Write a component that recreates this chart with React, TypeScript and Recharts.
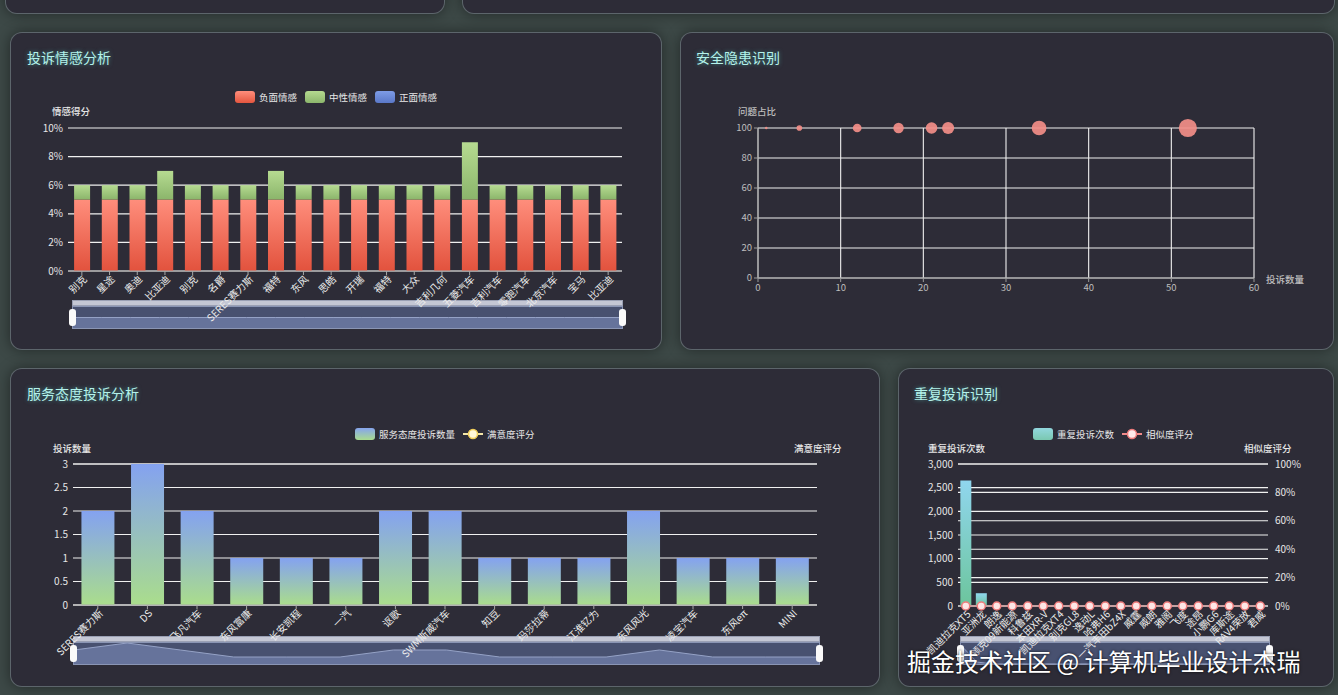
import React from "react";
import {
  Area,
  AreaChart,
  Bar,
  BarChart,
  CartesianGrid,
  ComposedChart,
  Line,
  Scatter,
  ScatterChart,
  XAxis,
  YAxis,
  ZAxis
} from "recharts";

// 投诉情感分析
const sentimentBrands = ["别克", "星途", "奥迪", "比亚迪", "别克", "名爵", "SERES赛力斯", "福特", "东风", "思皓", "开瑞", "福特", "大众", "吉利几何", "五菱汽车", "吉利汽车", "零跑汽车", "北京汽车", "宝马", "比亚迪"];
const negativeShare = [0.05, 0.05, 0.05, 0.05, 0.05, 0.05, 0.05, 0.05, 0.05, 0.05, 0.05, 0.05, 0.05, 0.05, 0.05, 0.05, 0.05, 0.05, 0.05, 0.05];
const neutralShare = [0.01, 0.01, 0.01, 0.02, 0.01, 0.01, 0.01, 0.02, 0.01, 0.01, 0.01, 0.01, 0.01, 0.01, 0.04, 0.01, 0.01, 0.01, 0.01, 0.01];
const positiveShare = [0, 0, 0, 0, 0, 0, 0, 0, 0, 0, 0, 0, 0, 0, 0, 0, 0, 0, 0, 0];
const sentimentTicks = [0, 0.02, 0.04, 0.06, 0.08, 0.1];

// 安全隐患识别
const riskCounts = [1, 5, 12, 17, 21, 23, 34, 52];
const riskRatios = [100, 100, 100, 100, 100, 100, 100, 100];
const riskXTicks = [0, 10, 20, 30, 40, 50, 60];
const riskYTicks = [0, 20, 40, 60, 80, 100];

// 服务态度投诉分析
const serviceBrands = ["SERES赛力斯", "DS", "飞凡汽车", "东风富康", "长安凯程", "一汽", "讴歌", "SWM斯威汽车", "知豆", "玛莎拉蒂", "江淮钇为", "东风风光", "凌宝汽车", "东风eπ", "MINI"];
const serviceCounts = [2, 3, 2, 1, 1, 1, 2, 2, 1, 1, 1, 2, 1, 1, 1];
const satisfactionScores = [null, null, null, null, null, null, null, null, null, null, null, null, null, null, null];
const serviceLeftTicks = [0, 0.5, 1, 1.5, 2, 2.5, 3];
const serviceRightTicks = [0, 1, 2, 3, 4, 5];

// 重复投诉识别
const repeatModels = ["凯迪拉克XT5", "亚洲龙", "朗逸", "领克09新能源", "科鲁兹", "本田XR-V", "凯迪拉克XT4", "别克GL8", "逸动L", "哈弗H6", "一汽丰田bZ4X", "威霆", "威朗", "雅阁", "飞度", "途昂", "小鹏G6", "库斯途", "RAV4荣放", "君威"];
const repeatCounts = [2650, 270, 14, 12, 12, 10, 10, 10, 9, 9, 8, 8, 8, 7, 7, 7, 6, 6, 6, 6];
const similarityScores = [0, 0, 0, 0, 0, 0, 0, 0, 0, 0, 0, 0, 0, 0, 0, 0, 0, 0, 0, 0];
const repeatLeftTicks = [0, 500, 1000, 1500, 2000, 2500, 3000];
const repeatRightTicks = [0, 0.2, 0.4, 0.6, 0.8, 1];

const sentimentData = sentimentBrands.map((brand, i) => ({
  brand,
  negative: negativeShare[i],
  neutral: neutralShare[i],
  positive: positiveShare[i]
}));
const riskData = riskCounts.map((c, i) => ({ x: c, y: riskRatios[i], z: c }));
const serviceData = serviceBrands.map((brand, i) => ({ brand, count: serviceCounts[i], score: satisfactionScores[i] }));
const repeatData = repeatModels.map((model, i) => ({ model, count: repeatCounts[i], similarity: similarityScores[i] }));

const FONT = '"Noto Sans CJK SC", "Noto Sans", sans-serif';
const GRID = "#f0f0f0";

const RotTick = (props: any) => {
  const { x, y, payload } = props;
  return (
    <g transform={`translate(${x},${y})`}>
      <text x={2} y={0} dy={6} textAnchor="end" transform="rotate(-45)" fontSize={10} fill="#ececec">
        {payload.value}
      </text>
    </g>
  );
};

const cardStyle: React.CSSProperties = {
  position: "absolute",
  background: "#2d2c37",
  border: "1px solid rgba(150,170,170,0.45)",
  borderRadius: 12,
  boxShadow: "0 0 14px rgba(0,0,0,0.45)",
  boxSizing: "border-box"
};

const titleStyle: React.CSSProperties = {
  position: "absolute",
  fontSize: 14,
  color: "#b4f2ea",
  textShadow: "0 0 4px rgba(90,220,210,0.55)",
  whiteSpace: "nowrap"
};

const axisName = (text: string, left: number, top: number, color = "#e6e6e6") => (
  <div style={{ position: "absolute", left, top, fontSize: 9.5, color, fontWeight: 500, whiteSpace: "nowrap" }}>{text}</div>
);

function Swatch({ bg }: { bg: string }) {
  return <span style={{ display: "inline-block", width: 20, height: 12, borderRadius: 3, background: bg, marginRight: 4 }} />;
}

function LineIcon({ line, fill, stroke }: { line: string; fill: string; stroke: string }) {
  return (
    <svg width={20} height={12} style={{ marginRight: 4 }}>
      <line x1={0} y1={6} x2={20} y2={6} stroke={line} strokeWidth={2} />
      <circle cx={10} cy={6} r={4.5} fill={fill} stroke={stroke} strokeWidth={1.5} />
    </svg>
  );
}

function LegendRow({ left, top, children }: { left: number; top: number; children: React.ReactNode }) {
  return (
    <div style={{ position: "absolute", left, top, display: "flex", alignItems: "center", gap: 8, fontSize: 9.5, color: "#e8e8e8", whiteSpace: "nowrap" }}>
      {children}
    </div>
  );
}

function Slider({ left, top, width, data, dataKey, max }: { left: number; top: number; width: number; data: any[]; dataKey: string; max: number }) {
  const handle = (x: number): React.CSSProperties => ({
    position: "absolute", left: x, top: 9, width: 7, height: 17, background: "#fafafa", borderRadius: 3
  });
  return (
    <div style={{ position: "absolute", left, top, width, height: 30 }}>
      <div style={{ position: "absolute", left: 0, top: 0, width, height: 6, background: "#c4c7d4", border: "1px solid #9aa0b4", boxSizing: "border-box" }} />
      <div style={{ position: "absolute", left: 0, top: 6, width, height: 23, background: "#485170", border: "1px solid #8a95b4", boxSizing: "border-box", overflow: "hidden" }}>
        <AreaChart width={width - 2} height={21} data={data} margin={{ top: 0, right: 0, bottom: 0, left: 0 }}>
          <XAxis hide dataKey="idx" />
          <YAxis hide domain={[0, max]} />
          <Area type="linear" dataKey={dataKey} stroke="#95a2c6" strokeWidth={1} fill="#66739b" fillOpacity={1} isAnimationActive={false} />
        </AreaChart>
      </div>
      <div style={handle(-3)} />
      <div style={handle(width - 4)} />
    </div>
  );
}

export default function App() {
  return (
    <div style={{ position: "fixed", left: 0, top: 0, width: 1338, height: 695, overflow: "hidden", background: "#3d4947", fontFamily: FONT }}>
      <style>{`.recharts-surface{overflow:visible}`}</style>

      {/* partial cards of the row above */}
      <div style={{ ...cardStyle, left: 5, top: -40, width: 440, height: 54 }} />
      <div style={{ ...cardStyle, left: 462, top: -40, width: 873, height: 54 }} />

      {/* 投诉情感分析 */}
      <div style={{ ...cardStyle, left: 10, top: 32, width: 652, height: 318 }} />
      <div style={{ ...titleStyle, left: 27, top: 47 }}>投诉情感分析</div>
      <LegendRow left={235} top={90}>
        <span style={{ display: "flex", alignItems: "center" }}><Swatch bg="linear-gradient(#ff8e7c,#e4563f)" />负面情感</span>
        <span style={{ display: "flex", alignItems: "center" }}><Swatch bg="linear-gradient(#b5da90,#8cb66c)" />中性情感</span>
        <span style={{ display: "flex", alignItems: "center" }}><Swatch bg="linear-gradient(#7e9ce6,#5a78c8)" />正面情感</span>
      </LegendRow>
      {axisName("情感得分", 52, 104)}
      <Slider left={72} top={300} width={551} data={sentimentData.map((d, i) => ({ ...d, idx: i }))} dataKey="negative" max={0.1} />
      <div style={{ position: "absolute", left: 10, top: 85 }}>
        <BarChart width={640} height={246} data={sentimentData} margin={{ top: 43, right: 28, bottom: 0, left: 18 }} barCategoryGap="22%">
          <defs>
            <linearGradient id="negGrad" x1="0" y1="0" x2="0" y2="1">
              <stop offset="0%" stopColor="#ff8e7c" />
              <stop offset="100%" stopColor="#e2523d" />
            </linearGradient>
            <linearGradient id="neuGrad" x1="0" y1="0" x2="0" y2="1">
              <stop offset="0%" stopColor="#b6db91" />
              <stop offset="100%" stopColor="#8bb56b" />
            </linearGradient>
            <linearGradient id="posGrad" x1="0" y1="0" x2="0" y2="1">
              <stop offset="0%" stopColor="#7e9ce6" />
              <stop offset="100%" stopColor="#5a78c8" />
            </linearGradient>
          </defs>
          <CartesianGrid vertical={false} stroke={GRID} strokeWidth={1.2} />
          <XAxis dataKey="brand" height={60} interval={0} tick={<RotTick />} axisLine={{ stroke: "#a8a8a8" }} tickLine={{ stroke: "#a8a8a8" }} tickSize={4} />
          <YAxis width={40} domain={[0, 0.1]} ticks={sentimentTicks} tickFormatter={(v: number) => `${Math.round(v * 100)}%`} axisLine={false} tickLine={false} tickSize={3} tick={{ fontSize: 10, fill: "#e6e6e6" }} />
          <Bar dataKey="negative" stackId="s" fill="url(#negGrad)" isAnimationActive={false} />
          <Bar dataKey="neutral" stackId="s" fill="url(#neuGrad)" isAnimationActive={false} />
          <Bar dataKey="positive" stackId="s" fill="url(#posGrad)" isAnimationActive={false} />
        </BarChart>
      </div>

      {/* 安全隐患识别 */}
      <div style={{ ...cardStyle, left: 680, top: 32, width: 654, height: 318 }} />
      <div style={{ ...titleStyle, left: 696, top: 47 }}>安全隐患识别</div>
      {axisName("问题占比", 738, 104, "#bdbdbd")}
      {axisName("投诉数量", 1266, 272, "#bdbdbd")}
      <div style={{ position: "absolute", left: 690, top: 100 }}>
        <ScatterChart width={640} height={195} margin={{ top: 28, right: 76, bottom: 0, left: 28 }}>
          <CartesianGrid stroke={GRID} strokeWidth={1.1} />
          <XAxis type="number" dataKey="x" domain={[0, 60]} ticks={riskXTicks} height={17} axisLine={{ stroke: "#9a9a9a" }} tickLine={{ stroke: "#9a9a9a" }} tickSize={4} tick={{ fontSize: 9.5, fill: "#bdbdbd" }} />
          <YAxis type="number" dataKey="y" domain={[0, 100]} ticks={riskYTicks} width={40} axisLine={{ stroke: "#9a9a9a" }} tickLine={{ stroke: "#9a9a9a" }} tickSize={4} tick={{ fontSize: 9.5, fill: "#bdbdbd" }} />
          <ZAxis type="number" dataKey="z" domain={[0, 60]} range={[0, 300]} />
          <Scatter data={riskData} fill="#f38e88" fillOpacity={0.92} isAnimationActive={false} />
        </ScatterChart>
      </div>

      {/* 服务态度投诉分析 */}
      <div style={{ ...cardStyle, left: 10, top: 368, width: 870, height: 319 }} />
      <div style={{ ...titleStyle, left: 27, top: 383 }}>服务态度投诉分析</div>
      <LegendRow left={355} top={427}>
        <span style={{ display: "flex", alignItems: "center" }}><Swatch bg="linear-gradient(#86a4ee,#a9dc8e)" />服务态度投诉数量</span>
        <span style={{ display: "flex", alignItems: "center" }}><LineIcon line="#f3e6a8" fill="#fff8d8" stroke="#f2cf5a" />满意度评分</span>
      </LegendRow>
      {axisName("投诉数量", 53, 441)}
      {axisName("满意度评分", 794, 441)}
      <Slider left={73} top={636} width={747} data={serviceData.map((d, i) => ({ ...d, idx: i }))} dataKey="count" max={3} />
      <div style={{ position: "absolute", left: 20, top: 455 }}>
        <ComposedChart width={850} height={210} data={serviceData} margin={{ top: 9, right: 13, bottom: 0, left: 18 }} barCategoryGap="17%">
          <defs>
            <linearGradient id="svcGrad" x1="0" y1="0" x2="0" y2="1">
              <stop offset="0%" stopColor="#84a2f0" />
              <stop offset="100%" stopColor="#aadd8c" />
            </linearGradient>
          </defs>
          <CartesianGrid vertical={false} yAxisId="left" stroke={GRID} strokeWidth={1.1} />
          <CartesianGrid vertical={false} yAxisId="right" stroke={GRID} strokeWidth={1.1} />
          <XAxis dataKey="brand" height={60} interval={0} tick={<RotTick />} axisLine={{ stroke: "#a8a8a8" }} tickLine={{ stroke: "#a8a8a8" }} tickSize={4} />
          <YAxis yAxisId="left" width={35} domain={[0, 3]} ticks={serviceLeftTicks} axisLine={false} tickLine={false} tickSize={3} tick={{ fontSize: 10, fill: "#e6e6e6" }} />
          <YAxis yAxisId="right" orientation="right" width={40} domain={[0, 5]} ticks={serviceRightTicks} axisLine={false} tickLine={false} tickSize={6} tick={{ fontSize: 10, fill: "#e6e6e6" }} />
          <Bar yAxisId="left" dataKey="count" fill="url(#svcGrad)" isAnimationActive={false} />
          <Line yAxisId="right" dataKey="score" stroke="#f3e6a8" strokeWidth={2} dot={{ r: 4, fill: "#fff8d8", stroke: "#f2cf5a" }} isAnimationActive={false} />
        </ComposedChart>
      </div>

      {/* 重复投诉识别 */}
      <div style={{ ...cardStyle, left: 898, top: 368, width: 436, height: 319 }} />
      <div style={{ ...titleStyle, left: 914, top: 383 }}>重复投诉识别</div>
      <LegendRow left={1033} top={427}>
        <span style={{ display: "flex", alignItems: "center" }}><Swatch bg="linear-gradient(#92d7de,#7ac8b0)" />重复投诉次数</span>
        <span style={{ display: "flex", alignItems: "center" }}><LineIcon line="#f08a8a" fill="#fde9e9" stroke="#ee7b7b" />相似度评分</span>
      </LegendRow>
      {axisName("重复投诉次数", 928, 441)}
      {axisName("相似度评分", 1244, 441)}
      <Slider left={960} top={636} width={310} data={repeatData.map((d, i) => ({ ...d, idx: i }))} dataKey="count" max={3000} />
      <div style={{ position: "absolute", left: 900, top: 455 }}>
        <ComposedChart width={430} height={211} data={repeatData} margin={{ top: 9, right: 17, bottom: 0, left: 16 }} barCategoryGap="15%">
          <defs>
            <linearGradient id="repGrad" x1="0" y1="0" x2="0" y2="1">
              <stop offset="0%" stopColor="#90d6ee" />
              <stop offset="100%" stopColor="#6cc59c" />
            </linearGradient>
          </defs>
          <CartesianGrid vertical={false} yAxisId="left" stroke={GRID} strokeWidth={1.1} />
          <CartesianGrid vertical={false} yAxisId="right" stroke={GRID} strokeWidth={1.1} />
          <XAxis dataKey="model" height={60} interval={0} tick={<RotTick />} axisLine={{ stroke: "#a8a8a8" }} tickLine={{ stroke: "#a8a8a8" }} tickSize={4} />
          <YAxis yAxisId="left" width={42} domain={[0, 3000]} ticks={repeatLeftTicks} tickFormatter={(v: number) => v.toLocaleString("en-US")} axisLine={false} tickLine={false} tickSize={3} tick={{ fontSize: 10, fill: "#e6e6e6" }} />
          <YAxis yAxisId="right" orientation="right" width={45} domain={[0, 1]} ticks={repeatRightTicks} tickFormatter={(v: number) => `${Math.round(v * 100)}%`} axisLine={false} tickLine={false} tickSize={5} tick={{ fontSize: 10, fill: "#e6e6e6" }} />
          <Bar yAxisId="left" dataKey="count" fill="url(#repGrad)" isAnimationActive={false} />
          <Line yAxisId="right" dataKey="similarity" stroke="#f08a8a" strokeWidth={1.5} dot={{ r: 4, fill: "#fde6e6", stroke: "#ef7c7c", strokeWidth: 1.5 }} isAnimationActive={false} />
        </ComposedChart>
      </div>

      {/* watermark */}
      <div style={{ position: "absolute", left: 907, top: 643, fontSize: 24, color: "#ffffff", textShadow: "0 0 3px rgba(0,0,0,0.85)", whiteSpace: "nowrap", fontFamily: FONT }}>
        掘金技术社区 @ 计算机毕业设计杰瑞
      </div>
    </div>
  );
}
